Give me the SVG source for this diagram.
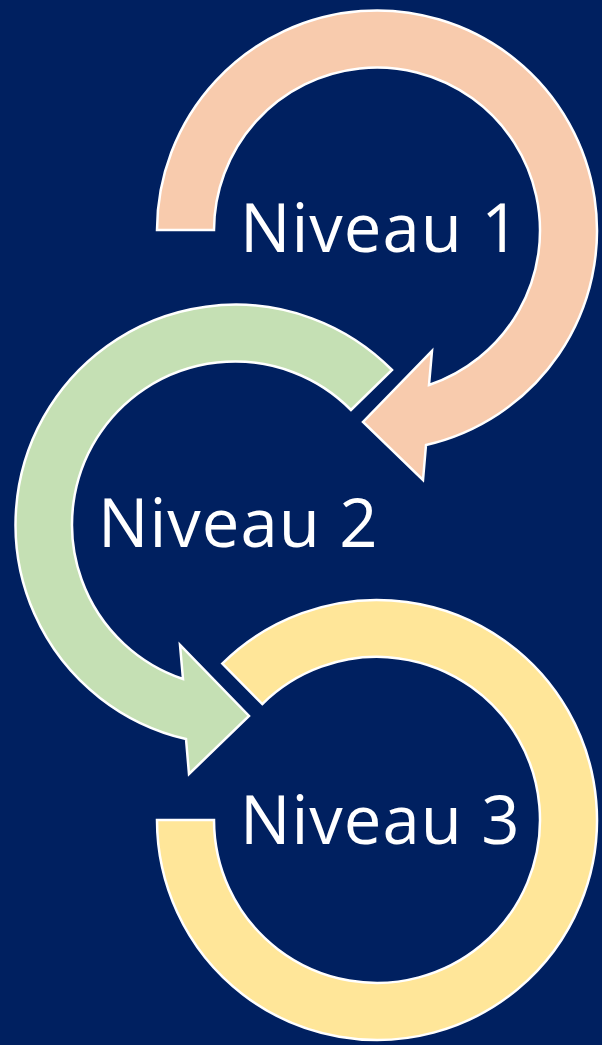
<svg xmlns="http://www.w3.org/2000/svg" width="602" height="1045" viewBox="0 0 602 1045">
  <style>
    .arr { stroke: #FFFFFF; stroke-width: 2.5; stroke-linejoin: miter; }
    .lbl { font-family: "Open Sans", "Liberation Sans", sans-serif; font-size: 67px; letter-spacing: 1px; fill: #FFFFFF; }
  </style>
  <rect x="0" y="0" width="602" height="1045" fill="#002060"/>
  <g id="connectors">
    <g id="arrow1">
      <path class="arr" fill="#F8CBAD" d="M157,230 A220,220 0 1 1 426,445 L423,480 L363,422 L432,351 L429,385 A163,163 0 1 0 214,230 Z"/>
    </g>
    <g id="arrow2">
      <path class="arr" fill="#C5E0B4" d="M392,370 A220,220 0 1 0 186,739 L189,774 L249,716 L180,645 L183,679 A163,163 0 1 1 351,410 Z"/>
    </g>
    <g id="arrow3">
      <path class="arr" fill="#FFE699" d="M222.3,663.6 A220,220 0 1 1 157,820 L214,820 A163,163 0 1 0 262.3,704.1 Z"/>
    </g>
  </g>
  <g id="node1"><text class="lbl" x="240" y="252">Niveau 1</text></g>
  <g id="node2"><text class="lbl" x="98" y="547">Niveau 2</text></g>
  <g id="node3"><text class="lbl" x="240" y="844">Niveau 3</text></g>
</svg>
